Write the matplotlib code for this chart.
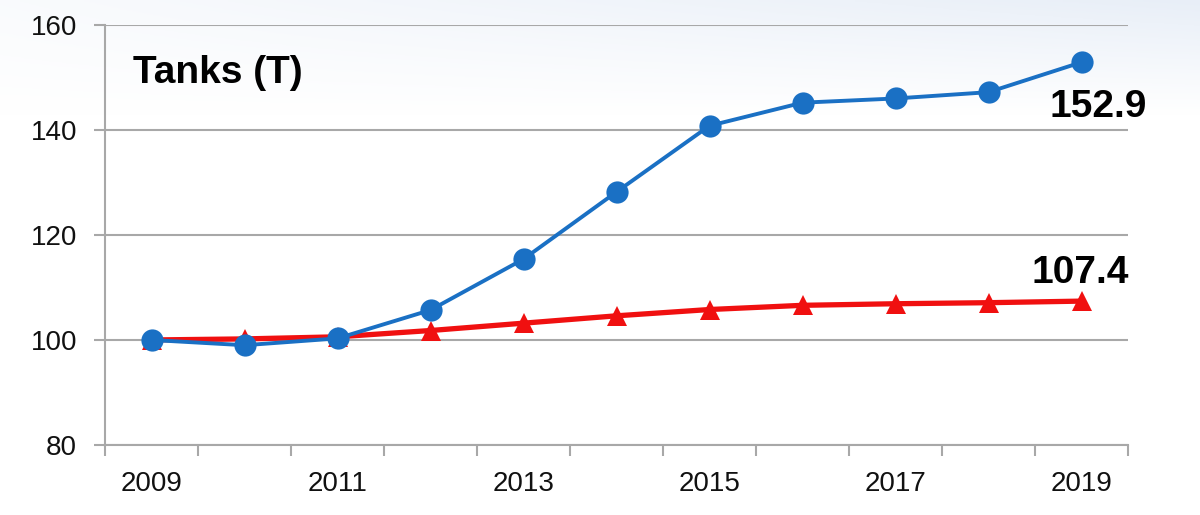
import numpy as np
import matplotlib.pyplot as plt

years = [2009, 2010, 2011, 2012, 2013, 2014, 2015, 2016, 2017, 2018, 2019]
tanks_blue = [100.0, 99.0, 100.3, 105.7, 115.4, 128.2, 140.8, 145.2, 146.0, 147.2, 152.9]
tanks_red = [100.0, 100.2, 100.6, 101.8, 103.2, 104.6, 105.8, 106.6, 106.9, 107.1, 107.4]
year_labels = ['2009', '2011', '2013', '2015', '2017', '2019']
y_ticks = [80, 100, 120, 140, 160]

BLUE = '#1a70c4'
RED = '#f01010'
GRID = '#a8a8a8'

plt.rcParams['font.family'] = ['Liberation Sans', 'DejaVu Sans']

fig = plt.figure(figsize=(12, 5.15), dpi=100)

# faint sky-like wash across the top, like the slide background
bg = fig.add_axes([0, 0, 1, 1], zorder=-10)
yy, xx = np.mgrid[0:1:200j, 0:1:400j]
fade = np.clip(1 - yy / 0.22, 0, 1) * (0.25 + 0.75 * xx)
rgb = np.ones((200, 400, 3))
tint = np.array([0.91, 0.935, 0.97])
rgb = rgb * (1 - fade[..., None]) + tint * fade[..., None]
bg.imshow(rgb, aspect='auto', extent=[0, 1, 0, 1], origin='upper')
bg.axis('off')

ax = fig.add_axes([0.0875, 0.136, 0.8525, 0.8155])
ax.patch.set_alpha(0)

ax.plot(years, tanks_red, color=RED, lw=3.8, marker='^', ms=15,
        markeredgewidth=0, zorder=3)
ax.plot(years, tanks_blue, color=BLUE, lw=2.8, marker='o', ms=16,
        markeredgewidth=0, zorder=4)

ax.set_xlim(2008.5, 2019.5)
ax.set_ylim(80, 160)
ax.set_yticks(y_ticks)
ax.set_xticks([int(s) for s in year_labels])
ax.set_xticklabels(year_labels)
ax.set_xticks(np.arange(2008.5, 2020, 1.0), minor=True)

ax.grid(axis='y', color=GRID, lw=1.5)
ax.set_axisbelow(True)
for side in ['top', 'right']:
    ax.spines[side].set_visible(False)
for side in ['left', 'bottom']:
    ax.spines[side].set_color(GRID)
    ax.spines[side].set_linewidth(1.5)

ax.tick_params(axis='y', length=8, width=1.5, color=GRID, pad=12,
               labelsize=20, labelcolor='#111111')
ax.tick_params(axis='x', which='major', length=0, pad=19,
               labelsize=20, labelcolor='#111111')
ax.tick_params(axis='x', which='minor', length=8, width=1.5, color=GRID)

ax.text(133 / 1200, 1 - 83 / 515, 'Tanks (T)', transform=fig.transFigure,
        fontsize=28, fontweight='bold', ha='left', va='baseline')

ax.annotate(f'{tanks_blue[-1]:.1f}', (years[-1], tanks_blue[-1]),
            xytext=(65, -55), textcoords='offset pixels',
            ha='right', va='baseline', fontsize=28, fontweight='bold')
ax.annotate(f'{tanks_red[-1]:.1f}', (years[-1], tanks_red[-1]),
            xytext=(48, 18), textcoords='offset pixels',
            ha='right', va='baseline', fontsize=28, fontweight='bold')

fig.savefig('out.png', dpi=100)
